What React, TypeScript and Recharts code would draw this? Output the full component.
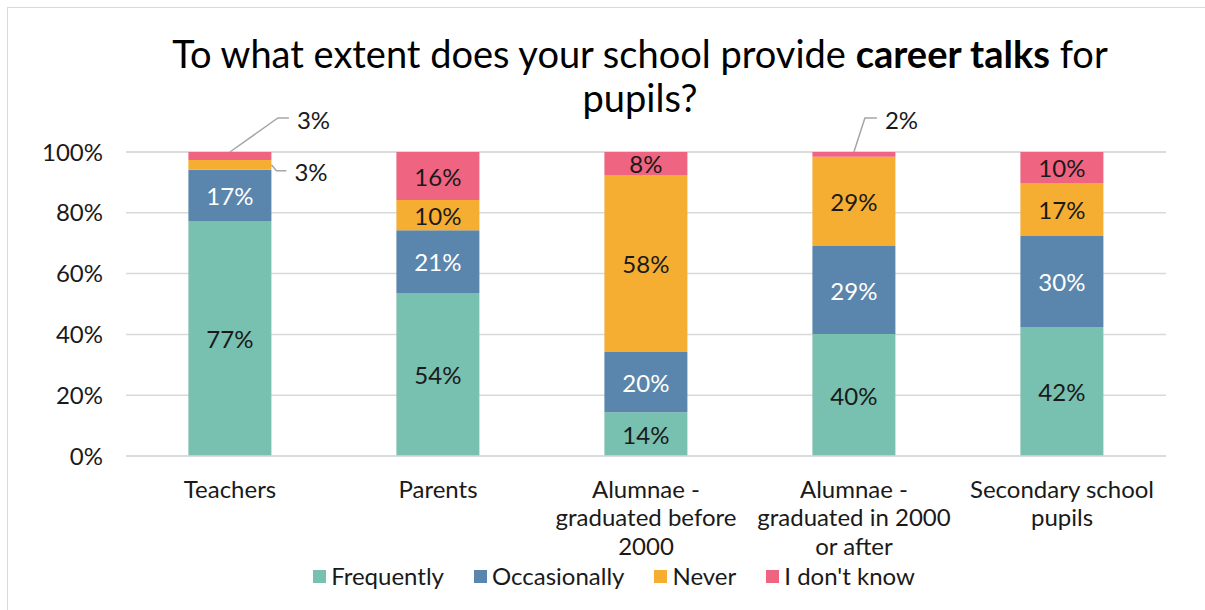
import { Bar, BarChart, CartesianGrid, LabelList, Legend, XAxis, YAxis } from "recharts";

const categories = [
  "Teachers",
  "Parents",
  "Alumnae - graduated before 2000",
  "Alumnae - graduated in 2000 or after",
  "Secondary school pupils"
];
const categoryLines = [
  ["Teachers"],
  ["Parents"],
  ["Alumnae -", "graduated before", "2000"],
  ["Alumnae -", "graduated in 2000", "or after"],
  ["Secondary school", "pupils"]
];
const frequently = [77.3, 53.6, 14.4, 40.1, 42.4];
const occasionally = [16.9, 20.7, 19.8, 29.0, 30.0];
const never = [3.2, 9.9, 58.2, 29.3, 17.4];
const dontKnow = [2.6, 15.8, 7.6, 1.6, 10.2];
const yTicks = [0, 20, 40, 60, 80, 100];

const series = [
  { key: "frequently", name: "Frequently", color: "#78c0af", text: "#1a1a1a" },
  { key: "occasionally", name: "Occasionally", color: "#5a86ad", text: "#ffffff" },
  { key: "never", name: "Never", color: "#f6ae32", text: "#1a1a1a" },
  { key: "dontKnow", name: "I don't know", color: "#ee6481", text: "#1a1a1a" }
];

const data = categories.map((name, i) => ({
  name,
  frequently: frequently[i],
  occasionally: occasionally[i],
  never: never[i],
  dontKnow: dontKnow[i]
}));

// leader lines for the tiny segments, placed by hand like in the original
const callouts: Record<string, { side: "top" | "right"; ex: number; ey: number; len: number }> = {
  "dontKnow-0": { side: "top", ex: 48, ey: -34, len: 11 },
  "dontKnow-3": { side: "top", ex: 11, ey: -34, len: 12 },
  "never-0": { side: "right", ex: 5, ey: 6, len: 10 }
};

const font = "Lato, 'Noto Sans', sans-serif";

function segmentLabel(key: string, textColor: string) {
  return (props: any) => {
    const { x, y, width, height, value, index } = props;
    const label = `${Math.round(Number(value))}%`;
    const c = callouts[`${key}-${index}`];
    if (c) {
      const ax = c.side === "top" ? x + width / 2 : x + width;
      const ay = c.side === "top" ? y : y + height / 2;
      const bx = ax + c.ex;
      const by = ay + c.ey;
      return (
        <g>
          <polyline
            points={`${ax},${ay} ${bx},${by} ${bx + c.len},${by}`}
            fill="none"
            stroke="#a6a6a6"
            strokeWidth={1.5}
          />
          <text x={bx + c.len + 8} y={by + 1} fontSize={24} fontFamily={font} fill="#1a1a1a" dominantBaseline="central">
            {label}
          </text>
        </g>
      );
    }
    return (
      <text
        x={x + width / 2}
        y={y + height / 2}
        fontSize={24}
        fontFamily={font}
        fill={textColor}
        textAnchor="middle"
        dominantBaseline="central"
      >
        {label}
      </text>
    );
  };
}

function CategoryTick(props: any) {
  const { x, y, payload } = props;
  const lines = categoryLines[categories.indexOf(payload.value)] ?? [payload.value];
  return (
    <g>
      {lines.map((line, i) => (
        <text
          key={i}
          x={x}
          y={y + 24 + i * 28.5}
          fontSize={24}
          fontFamily={font}
          fill="#1a1a1a"
          textAnchor="middle"
          dominantBaseline="central"
        >
          {line}
        </text>
      ))}
    </g>
  );
}

function LegendContent() {
  return (
    <div
      style={{
        height: 48,
        display: "flex",
        justifyContent: "center",
        alignItems: "flex-start",
        paddingLeft: 92,
        fontFamily: font,
        fontSize: 24,
        lineHeight: "28px",
        color: "#1a1a1a"
      }}
    >
      {series.map((s) => (
        <div key={s.key} style={{ display: "flex", alignItems: "center", marginRight: 30 }}>
          <span style={{ width: 13, height: 13, background: s.color, marginRight: 5, display: "inline-block" }} />
          <span>{s.name}</span>
        </div>
      ))}
    </div>
  );
}

export default function App() {
  return (
    <div style={{ position: "absolute", left: 0, top: 0, width: 1205, height: 610, overflow: "hidden", background: "#fff" }}>
      <div
        style={{
          position: "absolute",
          left: 7,
          top: 7,
          width: 1300,
          height: 700,
          border: "1.5px solid #d9d9d9"
        }}
      />
      <div
        style={{
          position: "absolute",
          left: 0,
          top: 31,
          width: 1280,
          textAlign: "center",
          fontFamily: font,
          fontSize: 38,
          lineHeight: "44px",
          color: "#000"
        }}
      >
        To what extent does your school provide <b>career talks</b> for
        <br />
        pupils?
      </div>
      <BarChart
        width={1205}
        height={610}
        data={data}
        margin={{ top: 152, right: 39, bottom: 0, left: 0 }}
        barCategoryGap="30%"
        style={{ position: "absolute", left: 0, top: 0 }}
      >
        <CartesianGrid vertical={false} stroke="#d9d9d9" strokeWidth={1.5} />
        <XAxis
          dataKey="name"
          height={106}
          tickLine={false}
          axisLine={{ stroke: "#d9d9d9", strokeWidth: 1.5 }}
          interval={0}
          tick={<CategoryTick />}
        />
        <YAxis
          width={126}
          domain={[0, 100]}
          ticks={yTicks}
          tickFormatter={(v) => `${v}%`}
          axisLine={false}
          tickLine={false}
          tickSize={0}
          tickMargin={23}
          tick={{ fontSize: 24, fontFamily: font, fill: "#1a1a1a" }}
        />
        <Legend verticalAlign="bottom" height={48} content={<LegendContent />} />
        {series.map((s) => (
          <Bar key={s.key} dataKey={s.key} name={s.name} stackId="a" fill={s.color} isAnimationActive={false}>
            <LabelList dataKey={s.key} content={segmentLabel(s.key, s.text)} />
          </Bar>
        ))}
      </BarChart>
    </div>
  );
}
